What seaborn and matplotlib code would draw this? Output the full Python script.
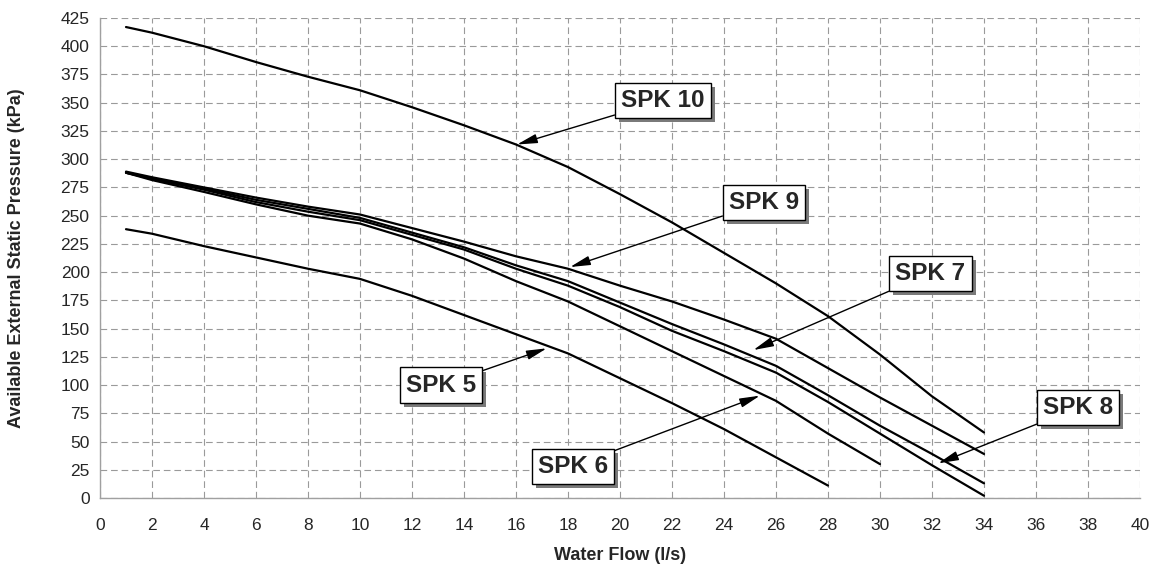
import numpy as np
import pandas as pd
import matplotlib
matplotlib.use("Agg")
import matplotlib.pyplot as plt
import matplotlib.patheffects as pe
import seaborn as sns

# ---- data ----
flow_long = [1, 2, 4, 6, 8, 10, 12, 14, 16, 18, 20, 22, 24, 26, 28, 30, 32, 34]
flow_30 = [1, 2, 4, 6, 8, 10, 12, 14, 16, 18, 20, 22, 24, 26, 28, 30]
flow_28 = [1, 2, 4, 6, 8, 10, 12, 14, 16, 18, 20, 22, 24, 26, 28]

spk10 = [417, 412, 400, 386, 373, 361, 346, 330, 313, 293, 269, 244, 217, 190, 161, 127, 90, 58]
spk9 = [289, 284, 275, 266, 258, 251, 239, 227, 214, 203, 188, 174, 158, 141, 115, 89, 64, 39]
spk7 = [288, 283, 274, 264, 256, 248, 235, 222, 206, 192, 173, 154, 136, 117, 91, 64, 39, 13]
spk8 = [288, 282.5, 273, 262, 253.5, 246, 233, 220, 203, 188, 169, 148, 130, 111, 85, 57, 29, 2]
spk6 = [288, 281.5, 271, 260, 250, 243, 229, 212, 192, 174, 152, 130, 108, 86, 57, 30]
spk5 = [238, 234, 223, 213, 203, 194, 179, 162, 145, 128, 106, 84, 61, 36, 11]

series_names = ["SPK 10", "SPK 9", "SPK 7", "SPK 8", "SPK 6", "SPK 5"]
series_x = [flow_long, flow_long, flow_long, flow_long, flow_30, flow_28]
series_y = [spk10, spk9, spk7, spk8, spk6, spk5]

x_ticks = list(range(0, 41, 2))
y_ticks = list(range(0, 426, 25))

# label box centres and arrow tips (data coords)
label_text = ["SPK 10", "SPK 9", "SPK 7", "SPK 8", "SPK 5", "SPK 6"]
label_pos = [(21.65, 352), (25.54, 262), (31.94, 199), (37.62, 80), (13.12, 100), (18.19, 28)]
arrow_tip = [(16.04, 313), (18.08, 204.5), (25.13, 131), (32.24, 30.7), (17.18, 132.5), (25.38, 90.6)]

# ---- build long table ----
frames = []
for name, xs, ys in zip(series_names, series_x, series_y):
    frames.append(pd.DataFrame({"flow": xs, "pressure": ys, "pump": name}))
df = pd.concat(frames, ignore_index=True)

sns.set_style("white")
plt.rcParams["font.family"] = ["Liberation Sans", "DejaVu Sans"]

fig = plt.figure(figsize=(11.6, 5.72), dpi=100)
ax = fig.add_axes([100 / 1160, 1 - 498 / 572, 1040 / 1160, 480 / 572])

sns.lineplot(data=df, x="flow", y="pressure", hue="pump", units="pump",
             estimator=None, palette=["black"] * len(series_names),
             linewidth=1.6, legend=False, ax=ax, sort=False, zorder=3)

ax.set_xlim(0, 40)
ax.set_ylim(0, 425)
ax.set_xticks(x_ticks)
ax.set_yticks(y_ticks)
ax.set_xticklabels([str(v) for v in x_ticks], fontsize=12.5)
ax.set_yticklabels([str(v) for v in y_ticks], fontsize=12.5)

ax.grid(True, color="#9a9a9a", linestyle=(0, (6, 3.5)), linewidth=0.8, zorder=0)
ax.set_axisbelow(True)
for side in ["top", "right"]:
    ax.spines[side].set_visible(False)
for side in ["left", "bottom"]:
    ax.spines[side].set_color("#a0a0a0")
    ax.spines[side].set_linewidth(1.0)
ax.tick_params(axis="both", direction="inout", length=7, width=0.8, color="#a0a0a0")
ax.tick_params(axis="y", pad=4)
ax.tick_params(axis="x", pad=11)

ax.set_xlabel("Water Flow (l/s)", fontsize=13, fontweight="bold")
ax.set_ylabel("Available External Static Pressure (kPa)", fontsize=13,
              fontweight="bold")
ax.xaxis.set_label_coords(0.5, -0.102)
ax.yaxis.set_label_coords(-0.072, 0.5)

for txt, pos, tip in zip(label_text, label_pos, arrow_tip):
    ann = ax.annotate(
        txt, xy=tip, xytext=pos, textcoords="data",
        ha="center", va="center", fontsize=17.5, fontweight="bold",
        bbox=dict(boxstyle="square,pad=0.25", fc="white", ec="black", lw=1.0),
        arrowprops=dict(arrowstyle="-|>,head_length=0.7,head_width=0.16",
                        color="black", lw=1.0, shrinkA=0, shrinkB=0),
        zorder=5,
    )
    ann.get_bbox_patch().set_path_effects([
        pe.SimplePatchShadow(offset=(3, -3), shadow_rgbFace="#7a7a7a", alpha=1.0),
        pe.Normal(),
    ])

fig.savefig("out.png", dpi=100)
